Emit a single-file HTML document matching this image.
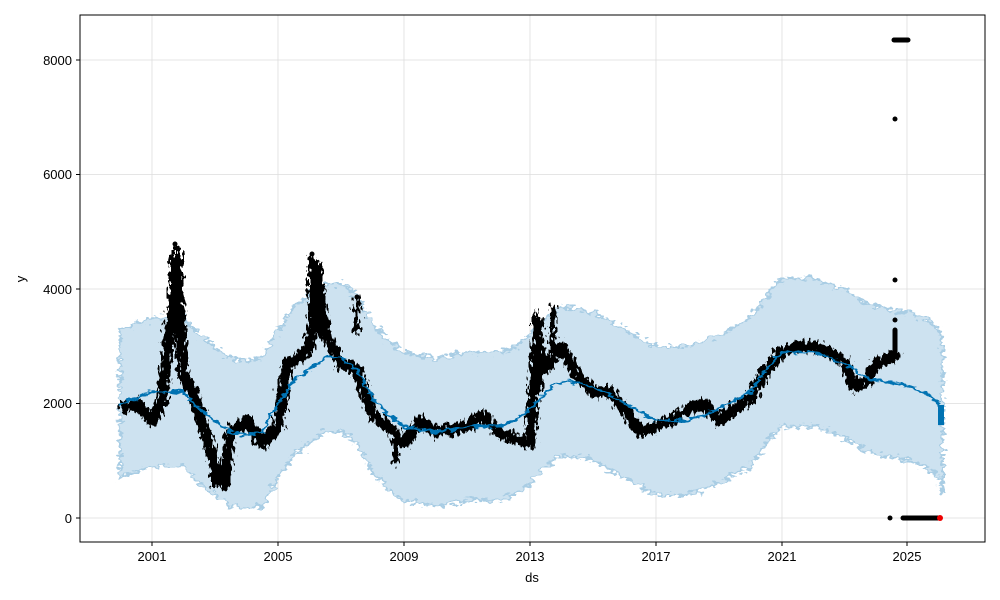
<!DOCTYPE html>
<html><head><meta charset="utf-8"><style>
html,body{margin:0;padding:0;background:#fff;}
svg{display:block;font-family:"Liberation Sans","DejaVu Sans",sans-serif;}
</style></head><body>
<svg width="1000" height="600" viewBox="0 0 1000 600" xmlns="http://www.w3.org/2000/svg">
<rect width="1000" height="600" fill="#fff"/>
<defs>
<clipPath id="c"><rect x="80" y="15" width="905" height="527"/></clipPath>
<filter id="jd" x="-5%" y="-20%" width="110%" height="140%">
<feTurbulence type="fractalNoise" baseFrequency="0.35 0.15" numOctaves="2" seed="3" result="n"/>
<feDisplacementMap in="SourceGraphic" in2="n" scale="14" xChannelSelector="R" yChannelSelector="G"/>
</filter>
<filter id="jb" x="-5%" y="-20%" width="110%" height="140%">
<feTurbulence type="fractalNoise" baseFrequency="0.15 0.25" numOctaves="2" seed="7" result="n"/>
<feDisplacementMap in="SourceGraphic" in2="n" scale="14" xChannelSelector="R" yChannelSelector="G"/>
</filter>
<filter id="jt" x="-5%" y="-20%" width="110%" height="140%">
<feTurbulence type="fractalNoise" baseFrequency="0.12 0.25" numOctaves="2" seed="11" result="n"/>
<feDisplacementMap in="SourceGraphic" in2="n" scale="8" xChannelSelector="R" yChannelSelector="G"/>
</filter>
<polyline id="tr" points="120,403.5 136.3,397.8 152,392 183.5,392 199.3,409.2 215,420.7 230.8,432.1 246.5,435 262.3,432.1 278,403.5 293.8,380.6 309.5,369.2 325.3,357.7 341,357.7 356.8,369.2 372.5,397.8 388.3,415 404,426.4 435.5,432.1 467,426.4 498.5,426.4 514.3,420.7 530,409.2 545.8,392 561.5,380.6 593,386.3 624.5,403.5 656,420.7 687.5,420.7 719,409.2 750.5,392 766.3,369.2 782,352 813.5,352 845,363.4 860.8,374.9 876.5,380.6 908,386.3 923.8,392 939.5,403.5 942.7,420.7"/>
</defs>
<g stroke="#dddddd" stroke-width="0.8">
<line x1="152" y1="15" x2="152" y2="542"/><line x1="278" y1="15" x2="278" y2="542"/>
<line x1="404" y1="15" x2="404" y2="542"/><line x1="530" y1="15" x2="530" y2="542"/>
<line x1="656" y1="15" x2="656" y2="542"/><line x1="782" y1="15" x2="782" y2="542"/>
<line x1="907" y1="15" x2="907" y2="542"/>
<line x1="80" y1="518" x2="985" y2="518"/><line x1="80" y1="403.5" x2="985" y2="403.5"/>
<line x1="80" y1="289" x2="985" y2="289"/><line x1="80" y1="174.5" x2="985" y2="174.5"/>
<line x1="80" y1="60" x2="985" y2="60"/>
</g>
<g clip-path="url(#c)">
<g filter="url(#jb)">
<polygon fill="#cde2f0" stroke="#a9cde4" stroke-width="2.5" points="120,329.5 136.3,323.8 152,318 183.5,318 199.3,335.2 215,346.7 230.8,358.1 246.5,361 262.3,358.1 278,329.5 293.8,306.6 309.5,295.2 325.3,283.7 341,283.7 356.8,295.2 372.5,323.8 388.3,341 404,352.4 435.5,358.1 467,352.4 498.5,352.4 514.3,346.7 530,335.2 545.8,318 561.5,306.6 593,312.3 624.5,329.5 656,346.7 687.5,346.7 719,335.2 750.5,318 766.3,295.2 782,278 813.5,278 845,289.4 860.8,300.9 876.5,306.6 908,312.3 923.8,318 939.5,329.5 942.7,346.7 942.7,494.7 939.5,477.5 923.8,466 908,460.3 876.5,454.6 860.8,448.9 845,437.4 813.5,426 782,426 766.3,443.2 750.5,466 719,483.2 687.5,494.7 656,494.7 624.5,477.5 593,460.3 561.5,454.6 545.8,466 530,483.2 514.3,494.7 498.5,500.4 467,500.4 435.5,506.1 404,500.4 388.3,489 372.5,471.8 356.8,443.2 341,431.7 325.3,431.7 309.5,443.2 293.8,454.6 278,477.5 262.3,506.1 246.5,509 230.8,506.1 215,494.7 199.3,483.2 183.5,466 152,466 136.3,471.8 120,477.5"/>
</g>
<g filter="url(#jd)">
<polyline fill="none" stroke="#000" stroke-width="11" stroke-linejoin="round" points="120.5,409 136.3,403.5 152,420.7 161.5,403.5 167.8,346.3 177.2,277.6 183.5,374.9 193,392 205.6,432 215,466.5 224.5,483.7 230.8,432 246.5,420.7 262.3,443.6 278,426.4 287.5,363.4 300,357.7 309.5,346.3 319,289 325.3,334.8 341,363.4 356.8,369.2 372.5,415 388.3,426.4 404,443.6 419.8,420.7 435.5,432.1 467,426.4 482.8,415 498.5,432.1 514.3,437.9 530,443.6 536.3,346.3 545.8,369.2 561.5,346.3 577.3,374.9 593,392 608.8,392 624.5,409.2 640.3,432.1 656,426.4 671.8,420.7 687.5,409.2 703.3,403.5 719,420.7 734.8,409.2 750.5,397.8 766.3,369.2 782,352 797.8,346.3 813.5,346.3 829.3,352 845,363.4 854.5,386.3 867,380.6 876.5,363.4 892.3,357.7 898.6,352"/>
<g stroke="#000" stroke-width="6" stroke-linecap="round">
<line x1="172" y1="260" x2="172" y2="330"/><line x1="176" y1="248" x2="176" y2="300"/><line x1="180" y1="255" x2="180" y2="330"/>
<line x1="214" y1="450" x2="214" y2="486"/><line x1="311" y1="258" x2="311" y2="320"/><line x1="316" y1="262" x2="316" y2="310"/>
<line x1="320" y1="268" x2="320" y2="330"/><line x1="357" y1="300" x2="357" y2="330"/><line x1="396" y1="435" x2="396" y2="462"/>
<line x1="535" y1="315" x2="535" y2="380"/><line x1="540" y1="320" x2="540" y2="388"/><line x1="553" y1="308" x2="553" y2="360"/>
</g>
</g>
<g stroke="#000" stroke-width="5" stroke-linecap="round">
<line x1="895" y1="330" x2="895" y2="355"/>
<line x1="894" y1="40" x2="908" y2="40"/><line x1="903" y1="518" x2="938" y2="518"/>
</g>
<g fill="#000"><circle cx="895" cy="119" r="2.5"/><circle cx="895" cy="280" r="2.5"/><circle cx="895" cy="320" r="2.5"/><circle cx="890" cy="518" r="2.5"/><circle cx="357" cy="297" r="2.5"/><circle cx="175" cy="244" r="2.5"/><circle cx="312" cy="254" r="2.5"/></g>
<circle cx="940" cy="518" r="3" fill="#e00"/>
<g filter="url(#jt)"><use href="#tr" fill="none" stroke="#0072b2" stroke-width="2.4"/></g>
<rect x="938" y="405" width="6" height="20" fill="#0072b2"/>
</g>
<rect x="80" y="15" width="905" height="527" fill="none" stroke="#000" stroke-width="1"/>
<g stroke="#000" stroke-width="1">
<line x1="152" y1="542" x2="152" y2="546"/><line x1="278" y1="542" x2="278" y2="546"/><line x1="404" y1="542" x2="404" y2="546"/>
<line x1="530" y1="542" x2="530" y2="546"/><line x1="656" y1="542" x2="656" y2="546"/><line x1="782" y1="542" x2="782" y2="546"/>
<line x1="907" y1="542" x2="907" y2="546"/>
<line x1="76" y1="518" x2="80" y2="518"/><line x1="76" y1="403.5" x2="80" y2="403.5"/><line x1="76" y1="289" x2="80" y2="289"/>
<line x1="76" y1="174.5" x2="80" y2="174.5"/><line x1="76" y1="60" x2="80" y2="60"/>
</g>
<g font-size="13" fill="#000" text-anchor="middle">
<text x="152" y="561">2001</text><text x="278" y="561">2005</text><text x="404" y="561">2009</text>
<text x="530" y="561">2013</text><text x="656" y="561">2017</text><text x="782" y="561">2021</text><text x="907" y="561">2025</text>
<text x="532" y="582">ds</text>
</g>
<g font-size="13" fill="#000" text-anchor="end">
<text x="72" y="523">0</text><text x="72" y="408">2000</text><text x="72" y="294">4000</text>
<text x="72" y="179">6000</text><text x="72" y="65">8000</text>
</g>
<text x="25" y="279" font-size="13" text-anchor="middle" transform="rotate(-90 25 279)">y</text>
</svg>
</body></html>
